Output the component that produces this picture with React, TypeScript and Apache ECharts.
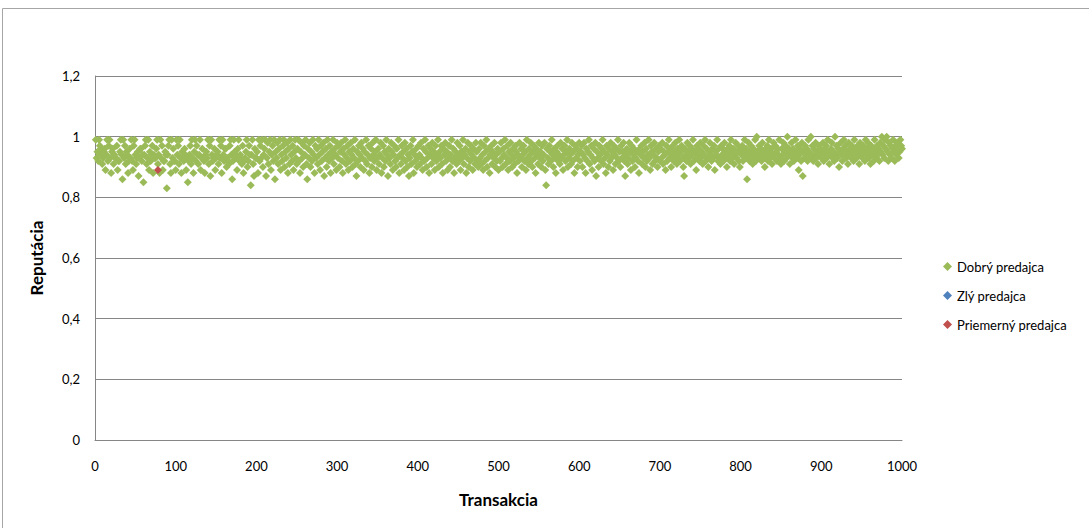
import React, { useEffect, useRef } from "react";
import * as echarts from "echarts";

const seriesNames = ["Dobrý predajca", "Zlý predajca", "Priemerný predajca"];
const xAxisName = "Transakcia";
const yAxisName = "Reputácia";

// Reputation of the good seller for transactions 1..1000
const goodReputation: number[] = [
  0.99,0.93,0.95,0.92,0.99,0.97,0.94,0.96,0.91,0.93,0.95,0.96,0.89,0.94,0.99,0.92,0.97,0.99,0.93,0.88,0.95,0.96,0.91,0.94,0.93,
  0.93,0.97,0.89,0.92,0.92,0.95,0.99,0.94,0.86,0.99,0.93,0.97,0.91,0.95,0.94,0.88,0.92,0.96,0.93,0.99,0.92,0.89,0.97,0.99,0.94,
  0.91,0.93,0.95,0.87,0.93,0.96,0.96,0.92,0.94,0.85,0.94,0.97,0.99,0.91,0.93,0.99,0.89,0.95,0.92,0.94,0.97,0.88,0.94,0.93,0.93,
  0.96,0.99,0.91,0.94,0.88,0.99,0.93,0.97,0.89,0.92,0.92,0.95,0.94,0.83,0.94,0.97,0.99,0.91,0.88,0.99,0.93,0.96,0.92,0.92,0.89,
  0.99,0.94,0.97,0.91,0.99,0.93,0.88,0.95,0.93,0.92,0.96,0.94,0.89,0.93,0.85,0.92,0.94,0.97,0.91,0.99,0.93,0.88,0.95,0.99,0.92,
  0.97,0.94,0.91,0.94,0.99,0.89,0.93,0.96,0.93,0.92,0.88,0.94,0.95,0.93,0.99,0.91,0.97,0.87,0.99,0.94,0.92,0.93,0.96,0.89,0.93,
  0.94,0.95,0.91,0.99,0.93,0.97,0.88,0.99,0.94,0.92,0.96,0.96,0.90,0.93,0.92,0.91,0.97,0.99,0.94,0.86,0.92,0.99,0.95,0.93,0.94,
  0.89,0.96,0.99,0.92,0.94,0.93,0.91,0.97,0.88,0.92,0.93,0.95,0.99,0.90,0.92,0.97,0.94,0.84,0.94,0.99,0.91,0.87,0.96,0.93,0.93,
  0.95,0.88,0.99,0.92,0.97,0.93,0.99,0.90,0.94,0.96,0.99,0.87,0.93,0.98,0.91,0.95,0.99,0.89,0.94,0.97,0.92,0.99,0.86,0.95,0.93,
  0.98,0.91,0.96,0.99,0.89,0.94,0.92,0.97,0.99,0.90,0.95,0.93,0.98,0.88,0.96,0.91,0.99,0.94,0.92,0.97,0.89,0.95,0.99,0.93,0.91,
  0.96,0.99,0.92,0.88,0.95,0.98,0.93,0.90,0.97,0.94,0.99,0.91,0.86,0.96,0.93,0.98,0.90,0.95,0.92,0.99,0.94,0.88,0.97,0.93,0.96,
  0.91,0.99,0.94,0.89,0.97,0.92,0.95,0.98,0.87,0.93,0.96,0.90,0.99,0.94,0.92,0.97,0.88,0.95,0.93,0.99,0.91,0.96,0.94,0.89,0.98,
  0.93,0.97,0.90,0.95,0.98,0.92,0.88,0.96,0.94,0.99,0.91,0.93,0.97,0.89,0.95,0.92,0.98,0.94,0.90,0.96,0.93,0.99,0.91,0.87,0.95,
  0.92,0.97,0.94,0.90,0.98,0.93,0.96,0.89,0.95,0.92,0.99,0.91,0.94,0.97,0.88,0.93,0.96,0.90,0.98,0.94,0.92,0.95,0.99,0.89,0.93,
  0.96,0.91,0.94,0.98,0.88,0.93,0.97,0.90,0.95,0.92,0.99,0.94,0.87,0.96,0.93,0.91,0.98,0.95,0.89,0.94,0.97,0.92,0.90,0.96,0.93,
  0.99,0.88,0.94,0.91,0.97,0.93,0.95,0.89,0.98,0.92,0.96,0.90,0.94,0.87,0.93,0.97,0.91,0.95,0.99,0.88,0.94,0.92,0.96,0.90,0.93,
  0.97,0.94,0.91,0.98,0.93,0.89,0.96,0.92,0.99,0.95,0.90,0.93,0.97,0.88,0.94,0.96,0.91,0.98,0.93,0.95,0.89,0.97,0.92,0.94,0.99,
  0.90,0.95,0.93,0.97,0.91,0.88,0.96,0.94,0.98,0.92,0.95,0.89,0.93,0.97,0.90,0.94,0.99,0.92,0.96,0.88,0.93,0.95,0.91,0.98,0.94,
  0.92,0.97,0.89,0.95,0.93,0.99,0.91,0.94,0.96,0.88,0.93,0.98,0.90,0.95,0.92,0.97,0.94,0.89,0.96,0.93,0.91,0.98,0.95,0.92,0.90,
  0.96,0.93,0.98,0.91,0.94,0.89,0.97,0.92,0.95,0.99,0.90,0.93,0.96,0.88,0.94,0.97,0.91,0.95,0.93,0.98,0.90,0.94,0.92,0.96,0.89,
  0.95,0.92,0.98,0.93,0.90,0.96,0.94,0.99,0.91,0.93,0.97,0.89,0.95,0.92,0.98,0.94,0.90,0.96,0.93,0.91,0.97,0.95,0.88,0.94,0.92,
  0.98,0.93,0.96,0.90,0.94,0.97,0.92,0.95,0.89,0.99,0.93,0.91,0.96,0.94,0.98,0.92,0.90,0.95,0.97,0.93,0.88,0.96,0.94,0.91,0.98,
  0.93,0.95,0.90,0.97,0.92,0.94,0.98,0.89,0.84,0.96,0.93,0.91,0.97,0.95,0.92,0.99,0.94,0.90,0.96,0.93,0.88,0.95,0.97,0.92,0.94,
  0.91,0.98,0.93,0.96,0.89,0.94,0.97,0.92,0.95,0.99,0.90,0.93,0.96,0.94,0.91,0.98,0.92,0.95,0.88,0.97,0.93,0.96,0.90,0.94,0.98,
  0.92,0.95,0.97,0.90,0.94,0.98,0.93,0.88,0.96,0.92,0.95,0.99,0.91,0.94,0.97,0.89,0.93,0.96,0.92,0.98,0.87,0.95,0.93,0.90,0.97,
  0.94,0.92,0.96,0.99,0.91,0.95,0.93,0.88,0.97,0.94,0.90,0.96,0.92,0.98,0.93,0.95,0.89,0.97,0.94,0.91,0.96,0.93,0.99,0.92,0.95,
  0.90,0.97,0.93,0.95,0.98,0.92,0.87,0.94,0.96,0.91,0.93,0.98,0.95,0.89,0.97,0.92,0.94,0.96,0.90,0.93,0.99,0.95,0.92,0.88,0.96,
  0.94,0.97,0.91,0.95,0.93,0.98,0.90,0.96,0.92,0.94,0.99,0.93,0.89,0.97,0.95,0.91,0.94,0.98,0.92,0.96,0.93,0.90,0.95,0.97,0.92,
  0.96,0.93,0.98,0.91,0.95,0.94,0.89,0.97,0.92,0.95,0.99,0.93,0.96,0.90,0.94,0.97,0.92,0.95,0.98,0.93,0.91,0.96,0.94,0.99,0.92,
  0.95,0.97,0.93,0.90,0.87,0.96,0.94,0.92,0.98,0.95,0.93,0.97,0.91,0.94,0.96,0.99,0.92,0.95,0.93,0.89,0.97,0.94,0.96,0.92,0.98,
  0.93,0.95,0.91,0.97,0.94,0.99,0.92,0.96,0.93,0.90,0.95,0.98,0.94,0.92,0.96,0.93,0.97,0.89,0.95,0.94,0.99,0.92,0.96,0.93,0.91,
  0.97,0.94,0.96,0.92,0.98,0.95,0.93,0.90,0.96,0.94,0.97,0.92,0.99,0.95,0.93,0.96,0.91,0.94,0.98,0.93,0.95,0.97,0.92,0.90,0.96,
  0.94,0.97,0.92,0.95,0.99,0.93,0.96,0.86,0.94,0.98,0.92,0.95,0.97,0.93,0.91,0.96,0.94,0.99,0.92,1.00,0.95,0.93,0.97,0.94,0.96,
  0.92,0.98,0.95,0.93,0.90,0.96,0.94,0.97,0.92,0.99,0.95,0.93,0.96,0.91,0.94,0.98,0.93,0.97,0.95,0.92,0.96,0.94,0.99,0.93,0.91,
  0.96,0.94,0.98,0.92,0.95,0.97,0.93,1.00,0.94,0.96,0.91,0.95,0.98,0.93,0.96,0.92,0.94,0.99,0.95,0.93,0.97,0.89,0.94,0.96,0.92,
  0.98,0.87,0.95,0.93,0.97,0.94,0.96,0.92,0.99,0.95,0.93,1.00,0.94,0.97,0.92,0.96,0.94,0.98,0.93,0.95,0.91,0.97,0.94,0.96,0.93,
  0.95,0.98,0.92,0.96,0.94,0.97,0.93,0.99,0.95,0.91,0.94,0.96,0.98,0.93,0.95,0.92,1.00,0.94,0.97,0.93,0.96,0.90,0.95,0.98,0.94,
  0.92,0.96,0.99,0.94,0.97,0.93,0.95,0.91,0.98,0.94,0.96,0.93,0.97,0.95,0.92,0.99,0.94,0.96,0.93,0.97,0.95,0.91,0.98,0.94,0.96,
  0.93,0.97,0.95,0.92,0.99,0.94,0.96,0.98,0.93,0.95,0.91,0.97,0.94,0.96,0.92,0.99,0.95,0.93,0.97,0.94,0.96,0.92,0.98,0.95,1.00,
  0.94,0.97,0.93,0.99,0.96,1.00,0.95,0.92,0.98,0.94,0.97,0.93,0.96,0.99,0.95,0.92,0.97,0.94,0.98,0.96,0.93,0.95,0.99,0.97,0.96,
];

// Bad seller: no visible points
const badReputation: [number, number][] = [];

// Average seller: a single point
const averageTransactions = [78];
const averageReputation = [0.89];

const xTicks = { min: 0, max: 1000, interval: 100 };
const yTicks = { min: 0, max: 1.2, interval: 0.2 };

const colors = ["#9BBB59", "#4F81BD", "#C0504D"];
const FONT = "Lato";

export default function App() {
  const ref = useRef<HTMLDivElement>(null);

  useEffect(() => {
    if (!ref.current) return;
    const chart = echarts.init(ref.current, null, { renderer: "svg" });
    const goodData = goodReputation.map((v, i) => [i + 1, v]);
    const avgData = averageTransactions.map((x, i) => [x, averageReputation[i]]);

    chart.setOption({
      animation: false,
      backgroundColor: "#ffffff",
      textStyle: { fontFamily: FONT },
      graphic: [
        {
          type: "rect",
          shape: { x: 2.5, y: 8.5, width: 1200, height: 700 },
          style: { fill: "none", stroke: "#a6a6a6", lineWidth: 1 },
          silent: true,
        },
      ],
      grid: { left: 95, right: 187, top: 76, bottom: 88, containLabel: false },
      legend: {
        orient: "vertical",
        left: 938,
        top: 255,
        itemGap: 16,
        itemWidth: 9,
        itemHeight: 9,
        icon: "diamond",
        textStyle: { fontFamily: FONT, fontSize: 13, color: "#000" },
        data: seriesNames,
      },
      xAxis: {
        type: "value",
        min: xTicks.min,
        max: xTicks.max,
        interval: xTicks.interval,
        name: xAxisName,
        nameLocation: "middle",
        nameGap: 51,
        nameTextStyle: { fontFamily: FONT, fontSize: 17, fontWeight: "bold", color: "#000" },
        axisLine: { show: true, lineStyle: { color: "#868686", width: 1 } },
        axisTick: { show: false },
        axisLabel: {
          margin: 19,
          fontFamily: FONT,
          fontSize: 13,
          color: "#000",
          formatter: (v: number) => String(v),
        },
        splitLine: { show: false },
      },
      yAxis: {
        type: "value",
        min: yTicks.min,
        max: yTicks.max,
        interval: yTicks.interval,
        name: yAxisName,
        nameLocation: "middle",
        nameGap: 50,
        nameRotate: 90,
        nameTextStyle: { fontFamily: FONT, fontSize: 17, fontWeight: "bold", color: "#000" },
        axisLine: { show: true, lineStyle: { color: "#868686", width: 1 } },
        axisTick: { show: false },
        axisLabel: {
          margin: 15,
          fontFamily: FONT,
          fontSize: 13,
          color: "#000",
          formatter: (v: number) => String(Number(v.toFixed(1))).replace(".", ","),
        },
        splitLine: { show: true, lineStyle: { color: "#868686", width: 1 } },
      },
      series: [
        {
          name: seriesNames[0],
          type: "scatter",
          symbol: "diamond",
          symbolSize: 8,
          itemStyle: { color: colors[0], opacity: 1 },
          data: goodData,
        },
        {
          name: seriesNames[1],
          type: "scatter",
          symbol: "diamond",
          symbolSize: 8,
          itemStyle: { color: colors[1], opacity: 1 },
          data: badReputation,
        },
        {
          name: seriesNames[2],
          type: "scatter",
          symbol: "diamond",
          symbolSize: 8,
          itemStyle: { color: colors[2], opacity: 1 },
          data: avgData,
        },
      ],
    });
    return () => chart.dispose();
  }, []);

  return (
    <div
      ref={ref}
      style={{ position: "absolute", left: 0, top: 0, width: 1089, height: 528 }}
    />
  );
}
